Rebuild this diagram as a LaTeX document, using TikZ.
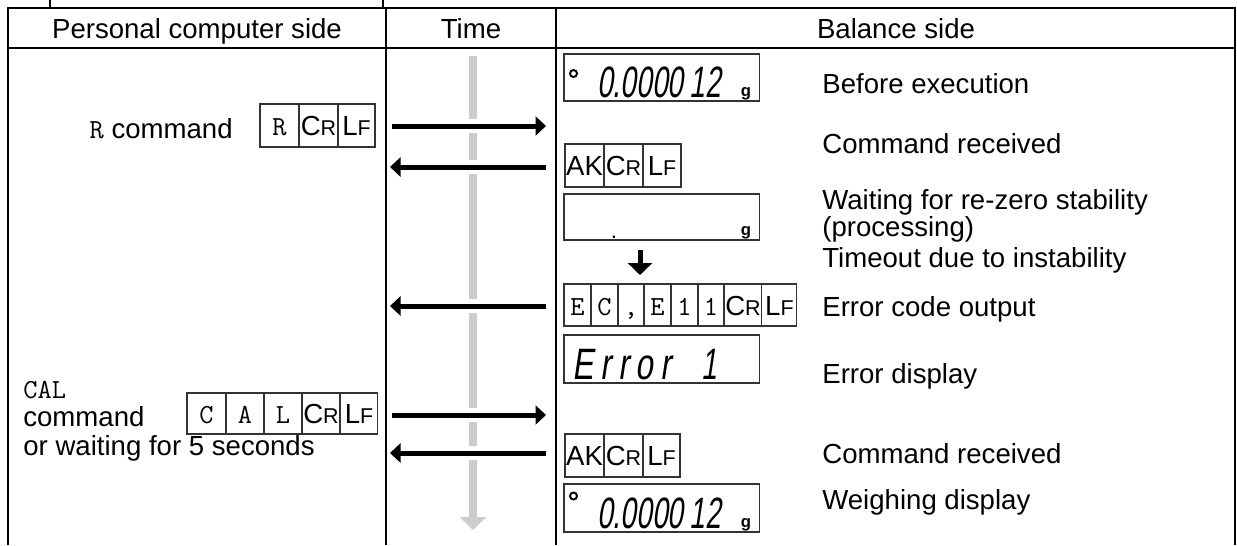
\documentclass[tikz,border=0pt]{standalone}
\usepackage{fontspec}
\setmainfont{Liberation Sans}
\newfontfamily\segfont[FakeSlant=0.15,FakeStretch=0.64]{Liberation Sans}
\newfontfamily\segwide[FakeSlant=0.15,FakeStretch=0.72,LetterSpace=16]{Liberation Sans}
\usetikzlibrary{arrows.meta, positioning}

\newcommand{\CRsym}{C{\fontsize{12.2pt}{12pt}\selectfont R}}
\newcommand{\LFsym}{L{\fontsize{12.2pt}{12pt}\selectfont F}}
\newcommand{\digits}{\fontsize{25pt}{25pt}\segfont}
\newcommand{\unitg}{\fontsize{9.5pt}{9pt}\selectfont\bfseries g}

\tikzset{
  grid/.style={line width=1.4pt},
  cell/.style={draw=black!80, line width=0.6pt, anchor=north west, inner sep=0pt, outer sep=0pt,
    text height=0.4cm, text depth=0cm},
  screen/.style={draw=black!80, line width=0.6pt, anchor=north west, inner sep=0pt, outer sep=0pt,
    minimum width=3.92cm},
  note/.style={anchor=base west, inner sep=0pt},
  msg/.style={line width=0.1cm, -{Triangle[length=0.21cm, width=0.38cm]}},
  timeline/.style={gray!40, line width=0.16cm, -{Triangle[length=0.26cm, width=0.52cm]}}
}

\begin{document}
\begin{tikzpicture}[x=0.02cm, y=-0.02cm, font=\fontsize{15.7pt}{14pt}\selectfont]
\useasboundingbox (0,0) rectangle (1237,545);

% Table frame
\draw[grid] (50,0) -- (50,8);
\draw[grid] (383,0) -- (383,8);
\draw[grid] (8,545) -- (8,8) -- (1235,8) -- (1235,545);
\draw[grid] (8,48) -- (1235,48);
\draw[grid] (386,8) -- (386,545);
\draw[grid] (556,8) -- (556,545);

% Header
\node[anchor=base, inner sep=0pt] (hpc) at (197,38) {Personal computer side};
\node[anchor=base, inner sep=0pt] (htime) at (471,38) {Time};
\node[anchor=base, inner sep=0pt] (hbal) at (896,38) {Balance side};

% Time line
\coordinate (t0) at (473,56);
\coordinate (t1) at (473,530);
\draw[timeline] (t0) -- (t1);
\foreach \y in {126,167,306,415,453}
  \draw[white, line width=0.28cm] (465,\y) -- (481,\y);

% PC side: R command
\node[anchor=base east, inner sep=0pt] (rcmd) at (233,138) {{\ttfamily R} command};
\node[cell, minimum width=0.78cm, minimum height=0.86cm] (rc1) at (260,104) {\ttfamily R};
\node[cell, minimum width=0.78cm, minimum height=0.86cm] (rc2) at (rc1.north east) {\CRsym};
\node[cell, minimum width=0.74cm, minimum height=0.86cm] (rc3) at (rc2.north east) {\LFsym};

% PC side: CAL command
\node[note] (calcmd) at (23,398) {\ttfamily CAL};
\node[note] (calword) at (23,426) {command};
\node[note] (calwait) at (23,455) {or waiting for 5 seconds};
\node[cell, minimum width=0.78cm, minimum height=0.82cm] (cc1) at (187,393) {\ttfamily C};
\node[cell, minimum width=0.76cm, minimum height=0.82cm] (cc2) at (cc1.north east) {\ttfamily A};
\node[cell, minimum width=0.76cm, minimum height=0.82cm] (cc3) at (cc2.north east) {\ttfamily L};
\node[cell, minimum width=0.76cm, minimum height=0.82cm] (cc4) at (cc3.north east) {\CRsym};
\node[cell, minimum width=0.76cm, minimum height=0.82cm] (cc5) at (cc4.north east) {\LFsym};

% Balance side: displays
\node[screen, minimum height=0.94cm] (d1) at (564,54) {};
\draw[line width=1.1pt] (573.5,73.5) circle (0.07cm);
\node[anchor=base west, inner sep=0pt] (d1val) at (597,97) {\digits 0.0000\kern0.15em12};
\node[anchor=base, inner sep=0pt] (d1g) at (746,96) {\unitg};

\node[cell, minimum width=0.78cm, minimum height=0.86cm] (ak1) at (565,144) {AK};
\node[cell, minimum width=0.78cm, minimum height=0.86cm] (ak2) at (ak1.north east) {\CRsym};
\node[cell, minimum width=0.76cm, minimum height=0.86cm] (ak3) at (ak2.north east) {\LFsym};

\node[screen, minimum height=0.92cm] (d2) at (564,194) {};
\node[anchor=base, inner sep=0pt] (d2dot) at (614,238) {\fontsize{13pt}{13pt}\selectfont .};
\node[anchor=base, inner sep=0pt] (d2g) at (746,235) {\unitg};

\coordinate (wA) at (640,250);
\coordinate (wB) at (640,275);
\draw[line width=0.1cm, -{Triangle[length=0.24cm, width=0.48cm]}] (wA) -- (wB);

\node[cell, minimum width=0.54cm, minimum height=0.84cm] (ec1) at (564,284) {\ttfamily E};
\node[cell, minimum width=0.54cm, minimum height=0.84cm] (ec2) at (ec1.north east) {\ttfamily C};
\node[cell, minimum width=0.52cm, minimum height=0.84cm] (ec3) at (ec2.north east) {\ttfamily ,};
\node[cell, minimum width=0.54cm, minimum height=0.84cm] (ec4) at (ec3.north east) {\ttfamily E};
\node[cell, minimum width=0.54cm, minimum height=0.84cm] (ec5) at (ec4.north east) {\ttfamily 1};
\node[cell, minimum width=0.52cm, minimum height=0.84cm] (ec6) at (ec5.north east) {\ttfamily 1};
\node[cell, minimum width=0.76cm, minimum height=0.84cm] (ec7) at (ec6.north east) {\CRsym};
\node[cell, minimum width=0.70cm, minimum height=0.84cm] (ec8) at (ec7.north east) {\LFsym};

\node[screen, minimum height=0.96cm] (d3) at (564,335) {};
\node[anchor=base west, inner sep=0pt] (d3err) at (572,379)
  {\fontsize{25pt}{25pt}\segwide Error\hspace{0.62cm}\segfont 1};

\node[cell, minimum width=0.78cm, minimum height=0.86cm] (ak4) at (565,434) {AK};
\node[cell, minimum width=0.78cm, minimum height=0.86cm] (ak5) at (ak4.north east) {\CRsym};
\node[cell, minimum width=0.74cm, minimum height=0.86cm] (ak6) at (ak5.north east) {\LFsym};

\node[screen, minimum height=0.96cm] (d4) at (564,484) {};
\draw[line width=1.1pt] (573.5,496) circle (0.07cm);
\node[anchor=base west, inner sep=0pt] (d4val) at (597,528) {\digits 0.0000\kern0.15em12};
\node[anchor=base, inner sep=0pt] (d4g) at (746,527) {\unitg};

% Balance side: notes
\node[note] (n1) at (822,93) {Before execution};
\node[note] (n2) at (822,153) {Command received};
\node[note, anchor=north west, align=left, font=\fontsize{15.7pt}{13.1pt}\selectfont] (n3) at (822,189)
  {Waiting for re-zero stability\\(processing)};
\node[note] (n5) at (822,267) {Timeout due to instability};
\node[note] (n6) at (822,316) {Error code output};
\node[note] (n7) at (822,383) {Error display};
\node[note] (n8) at (822,463) {Command received};
\node[note] (n9) at (822,509) {Weighing display};

% Messages
\coordinate (pcR) at (392,126);
\coordinate (balR) at (546,126);
\coordinate (balAK) at (546,167);
\coordinate (pcAK) at (390,167);
\coordinate (balEC) at (546,306);
\coordinate (pcEC) at (390,306);
\coordinate (pcCAL) at (392,415);
\coordinate (balCAL) at (546,415);
\coordinate (balAKb) at (546,453);
\coordinate (pcAKb) at (390,453);
\draw[msg] (pcR) -- (balR);
\draw[msg] (balAK) -- (pcAK);
\draw[msg] (balEC) -- (pcEC);
\draw[msg] (pcCAL) -- (balCAL);
\draw[msg] (balAKb) -- (pcAKb);

\end{tikzpicture}
\end{document}
